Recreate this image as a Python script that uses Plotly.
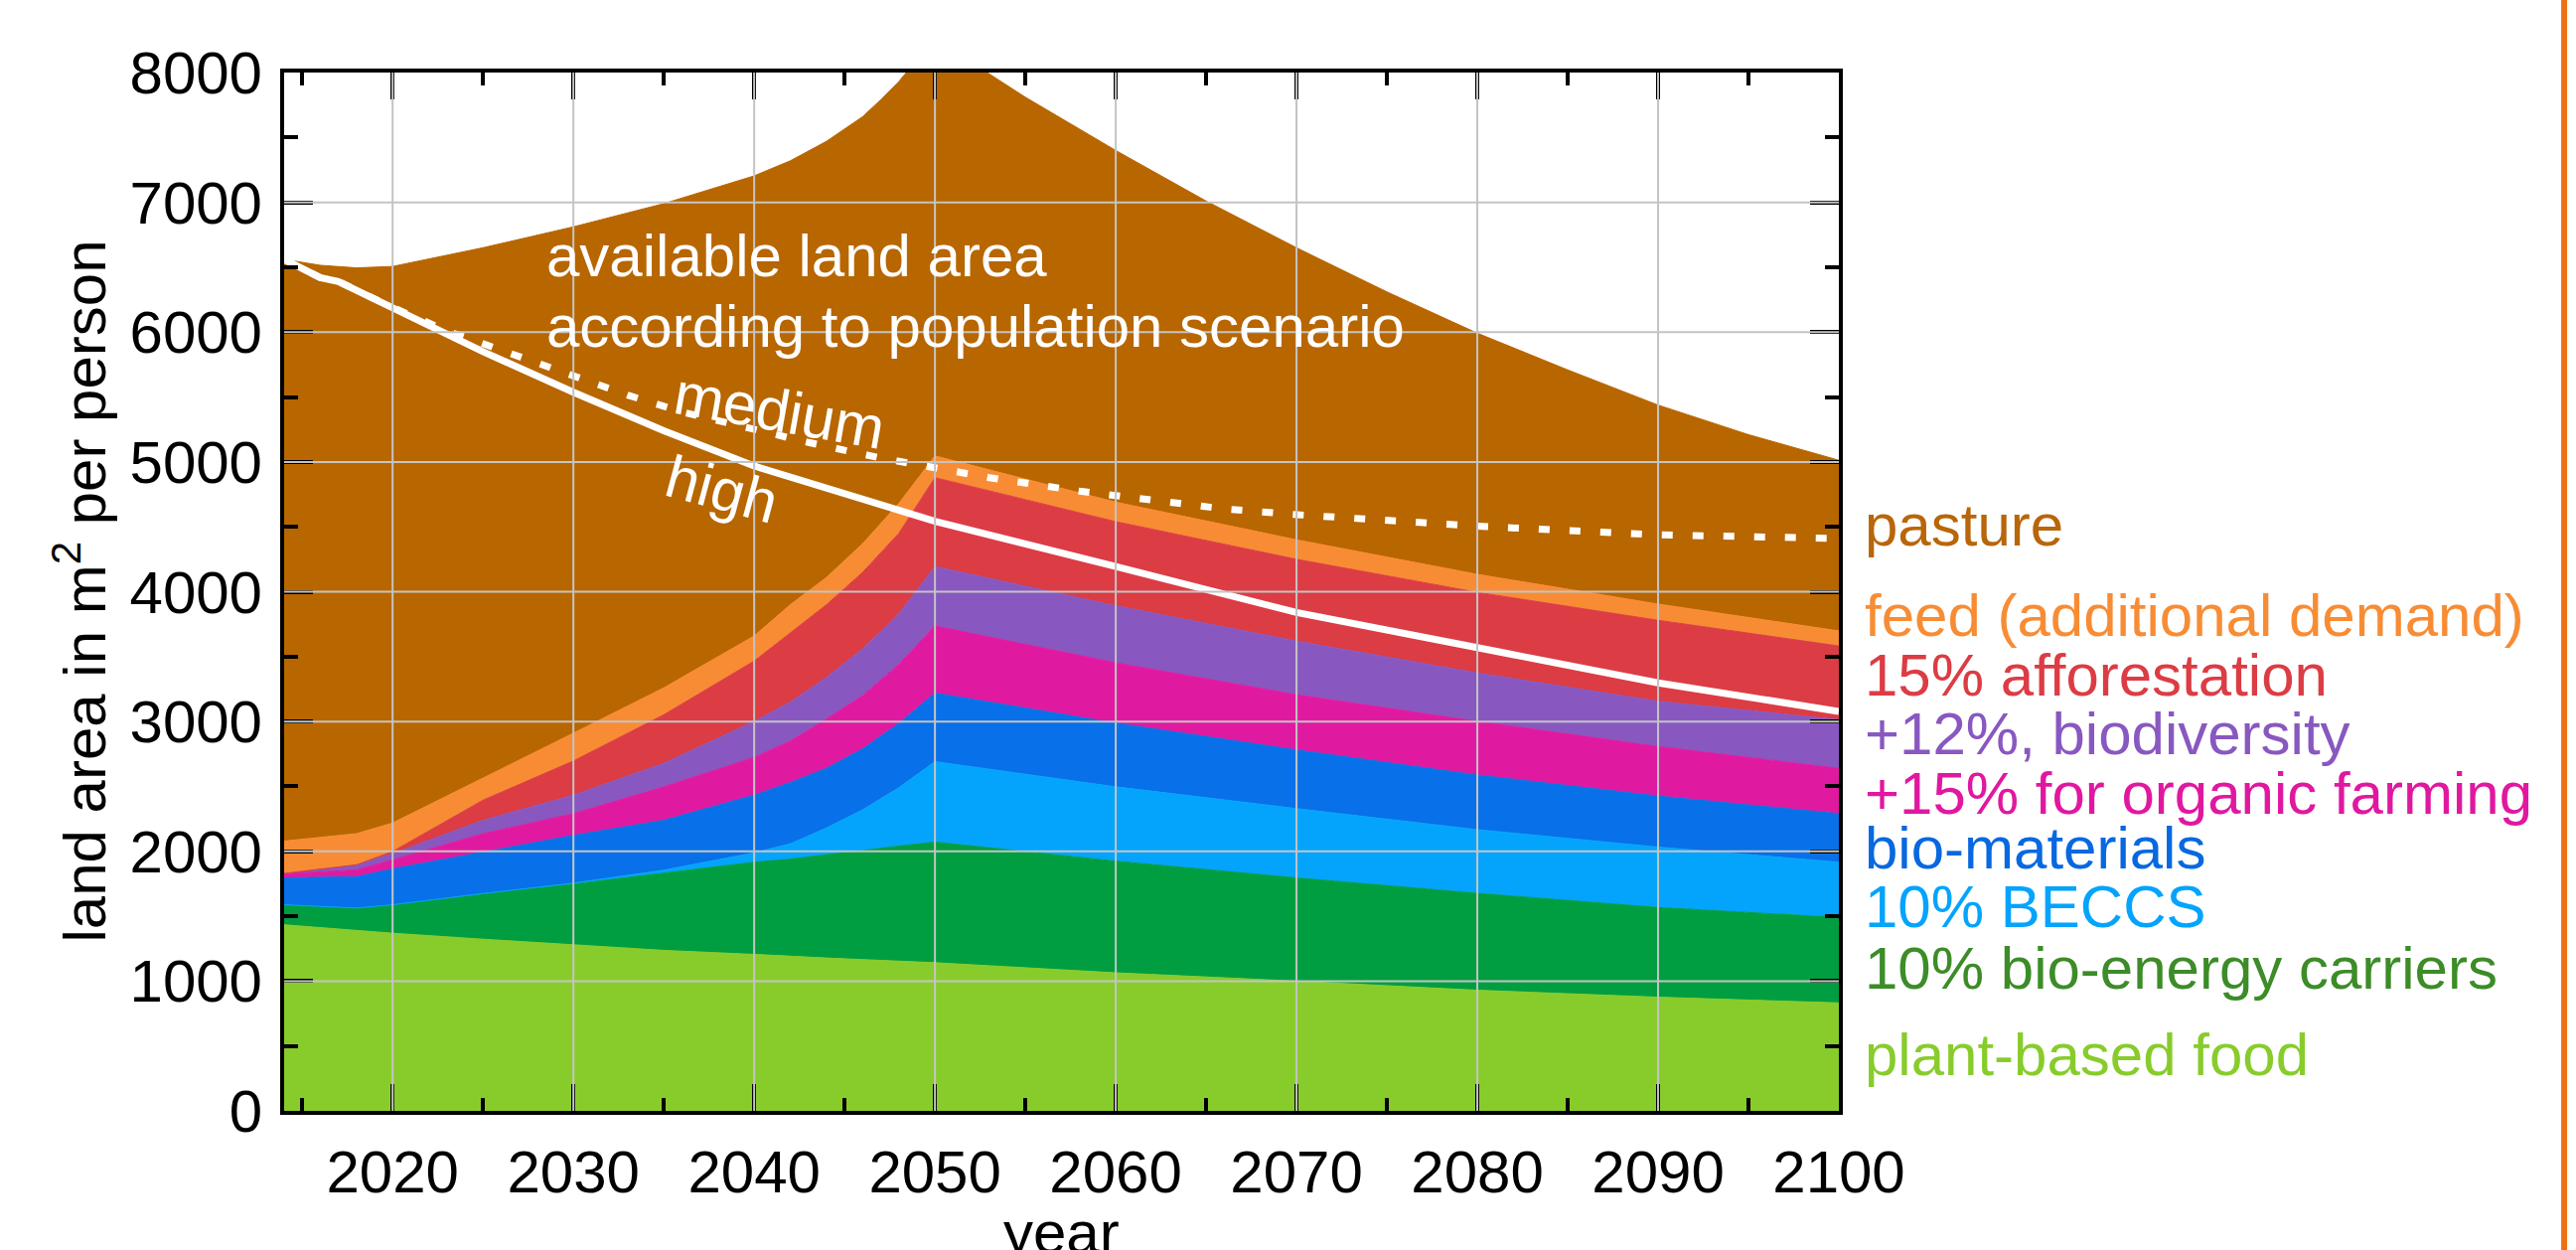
import plotly.graph_objects as go

# ---------------------------------------------------------------------------
# Land demand per person (m² per person), stacked bands.
# Each list gives the upper edge of a band at the years below.
# ---------------------------------------------------------------------------
years = [2014, 2018, 2020, 2025, 2030, 2035, 2040, 2042, 2044, 2046, 2048, 2050,
         2060, 2070, 2080, 2090, 2100]

plant_food_top = [1434, 1387, 1369, 1323, 1279, 1237, 1206, 1190, 1178, 1166, 1155, 1142,
                  1064, 1000, 930, 876, 832]
bio_energy_top = [1588, 1563, 1588, 1671, 1748, 1831, 1916, 1940, 1975, 2010, 2040, 2071,
                  1924, 1795, 1676, 1567, 1490]
beccs_top = [1588, 1563, 1588, 1675, 1755, 1855, 1989, 2058, 2180, 2320, 2490, 2691,
             2497, 2329, 2167, 2033, 1916]
bio_materials_top = [1795, 1805, 1865, 1994, 2123, 2239, 2433, 2530, 2640, 2790, 2985, 3220,
                     2988, 2781, 2588, 2426, 2290]
organic_top = [1826, 1857, 1935, 2136, 2291, 2497, 2724, 2850, 3020, 3200, 3440, 3737,
               3453, 3207, 3001, 2808, 2639]
biodiversity_top = [1830, 1896, 1981, 2239, 2433, 2678, 3001, 3150, 3340, 3560, 3830, 4194,
                    3892, 3620, 3375, 3156, 3014]
afforestation_top = [1830, 1896, 1999, 2394, 2696, 3052, 3466, 3680, 3900, 4150, 4450, 4879,
                     4540, 4250, 3995, 3780, 3582]
feed_top = [2079, 2136, 2218, 2562, 2910, 3259, 3659, 3900, 4110, 4370, 4680, 5046,
            4690, 4400, 4134, 3905, 3698]

# Total land use incl. pasture (upper edge of the pasture band)
years_total = [2014, 2016, 2018, 2020, 2025, 2030, 2035, 2040, 2042, 2044, 2046, 2047,
               2048, 2049, 2050, 2051, 2052, 2053, 2055, 2060, 2065, 2070, 2075, 2080,
               2085, 2090, 2095, 2100]
land_total = [6560, 6515, 6495, 6506, 6650, 6811, 6990, 7204, 7320, 7470, 7660, 7790,
              7930, 8100, 8290, 8180, 8080, 7990, 7810, 7400, 7010, 6650, 6310, 5992,
              5709, 5438, 5210, 5013]

# Available land area per person for two population scenarios
years_high = [2014, 2016, 2017, 2020, 2025, 2030, 2035, 2040, 2045, 2050, 2060, 2070,
              2080, 2090, 2100]
avail_high = [6560, 6420, 6390, 6183, 5850, 5537, 5240, 4969, 4750, 4543, 4194, 3840,
              3569, 3298, 3078]

years_medium = [2014, 2016, 2017, 2020, 2023, 2027, 2030, 2033, 2036, 2040, 2043, 2047,
                2050, 2053, 2058, 2062, 2066, 2070, 2080, 2090, 2100]
avail_medium = [6560, 6420, 6390, 6190, 6010, 5810, 5667, 5515, 5385, 5245, 5150, 5030,
                4950, 4879, 4775, 4705, 4638, 4594, 4505, 4438, 4410]

band_names = ["plant-based food", "10% bio-energy carriers", "10% BECCS", "bio-materials",
              "+15% for organic farming", "+12%, biodiversity", "15% afforestation",
              "feed (additional demand)"]
band_tops = [plant_food_top, bio_energy_top, beccs_top, bio_materials_top, organic_top,
             biodiversity_top, afforestation_top, feed_top]
band_colors = ["#88cc2c", "#009e40", "#04a4fc", "#0870e8", "#e01aa0", "#8858c0",
               "#dc3c44", "#f88c34"]
pasture_color = "#b86600"

FONT = "Liberation Sans, Arial, Helvetica, sans-serif"
FS = 60

fig = go.Figure()

for i, (name, top, col) in enumerate(zip(band_names, band_tops, band_colors)):
    fig.add_trace(go.Scatter(
        x=years, y=top, name=name, mode="lines",
        line=dict(color=col, width=1),
        fill="tozeroy" if i == 0 else "tonexty", fillcolor=col,
        showlegend=False, hoverinfo="skip"))

fig.add_trace(go.Scatter(
    x=years_total, y=land_total, name="pasture", mode="lines",
    line=dict(color=pasture_color, width=1),
    fill="tonexty", fillcolor=pasture_color,
    showlegend=False, hoverinfo="skip"))

fig.add_trace(go.Scatter(
    x=years_medium, y=avail_medium, name="medium", mode="lines",
    line=dict(color="white", width=7, dash="11px,20px"),
    showlegend=False, hoverinfo="skip"))
fig.add_trace(go.Scatter(
    x=years_high, y=avail_high, name="high", mode="lines",
    line=dict(color="white", width=7),
    showlegend=False, hoverinfo="skip"))

# Grid drawn over the coloured bands
grid_x = list(range(2020, 2100, 10))
grid_y = list(range(1000, 8000, 1000))
shapes = []
for gx in grid_x:
    shapes.append(dict(type="line", xref="x", yref="paper", x0=gx, x1=gx, y0=0, y1=1,
                       line=dict(color="#c4c4c4", width=2), layer="above"))
for gy in grid_y:
    shapes.append(dict(type="line", xref="paper", yref="y", x0=0, x1=1, y0=gy, y1=gy,
                       line=dict(color="#c4c4c4", width=2), layer="above"))
# Orange rule at the right edge of the page
shapes.append(dict(type="line", xref="paper", yref="paper", x0=1.4665, x1=1.4665,
                   y0=-0.3, y1=1.3, line=dict(color="#f07010", width=6), layer="above"))

white_font = dict(family=FONT, size=FS, color="white")
annotations = [
    dict(text="available land area", x=2028.4, y=6588, xref="x", yref="y",
         xanchor="left", yanchor="middle", showarrow=False, font=white_font),
    dict(text="according to population scenario", x=2028.4, y=6045, xref="x", yref="y",
         xanchor="left", yanchor="middle", showarrow=False, font=white_font),
    dict(text="medium", x=2041.4, y=5394, xref="x", yref="y", textangle=10,
         showarrow=False, font=white_font),
    dict(text="high", x=2038.2, y=4790, xref="x", yref="y", textangle=15,
         showarrow=False, font=white_font),
    dict(text="land area in m<sup>2</sup> per person", x=-0.1316, y=0.5,
         xref="paper", yref="paper", textangle=-90, xanchor="center", yanchor="middle",
         showarrow=False, font=dict(family=FONT, size=FS, color="black")),
    dict(text="year", x=0.5, y=-0.1177, xref="paper", yref="paper",
         xanchor="center", yanchor="middle", showarrow=False,
         font=dict(family=FONT, size=FS, color="black")),
]

# Band labels at the right, coloured like their bands
label_text = ["pasture", "feed (additional demand)", "15% afforestation",
              "+12%, biodiversity", "+15% for organic farming", "bio-materials",
              "10% BECCS", "10% bio-energy carriers", "plant-based food"]
label_color = ["#b8660a", "#f88c34", "#dc3c44", "#8858c0", "#e018a0", "#0868e0",
               "#04a4fc", "#3c8c28", "#88cc2c"]
label_y = [4515, 3820, 3355, 2905, 2445, 2025, 1575, 1095, 430]
for t, c, ly in zip(label_text, label_color, label_y):
    annotations.append(dict(text=t, x=1.0153, y=ly, xref="paper", yref="y",
                            xanchor="left", yanchor="middle", showarrow=False,
                            font=dict(family=FONT, size=FS, color=c)))

axis_common = dict(
    ticks="inside", tickcolor="black", tickwidth=4,
    showline=True, linecolor="black", linewidth=4, mirror="ticks",
    showgrid=False, zeroline=False, layer="above traces",
    tickfont=dict(family=FONT, size=FS, color="black"),
)

fig.update_layout(
    width=2593, height=1258,
    margin=dict(l=286, r=742, t=73, b=140, pad=0),
    paper_bgcolor="white", plot_bgcolor="white",
    xaxis=dict(range=[2014, 2100], tickvals=list(range(2020, 2101, 10)), ticklen=27,
               ticklabelstandoff=6,
               minor=dict(ticks="inside", tick0=2015, dtick=10, ticklen=13, tickwidth=4,
                          tickcolor="black", showgrid=False),
               **axis_common),
    yaxis=dict(range=[0, 8000], tickvals=list(range(0, 8001, 1000)), ticklen=29,
               ticklabelstandoff=6,
               minor=dict(ticks="inside", tick0=500, dtick=1000, ticklen=14, tickwidth=4,
                          tickcolor="black", showgrid=False),
               **axis_common),
    shapes=shapes,
    annotations=annotations,
    showlegend=False,
)

fig.write_html("out.html")
